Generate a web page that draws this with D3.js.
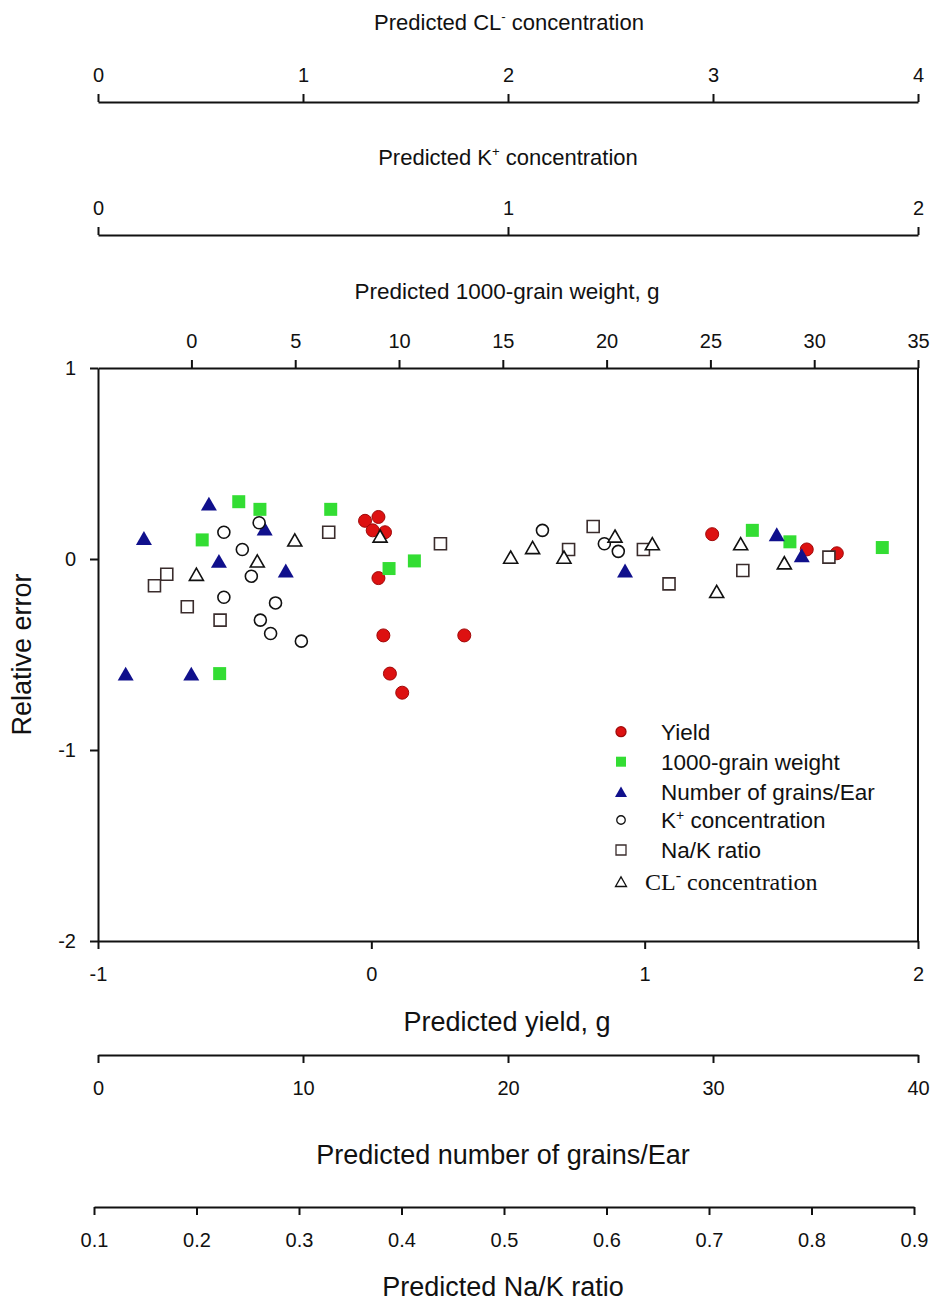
<!DOCTYPE html>
<html>
<head>
<meta charset="utf-8">
<title>Relative error of predictions</title>
<script src="https://d3js.org/d3.v7.min.js"></script>
<style>
  body { margin: 0; background: #fff; }
  svg text { font-family: "Liberation Sans", Arial, sans-serif; fill: #111; }
  .axis path, .axis line { stroke: #111; stroke-width: 2; }
  .axis text { font-size: 20px; }
</style>
</head>
<body>
<div id="chart"></div>
<script>
// values (x on each series' own axis, y = relative error)
const yieldX   = [-0.023, 0.026, 0.005, 0.05, 0.026, 0.044, 0.34, 0.068, 0.113, 1.247, 1.593, 1.703];
const yieldErr = [0.20, 0.22, 0.15, 0.14, -0.10, -0.40, -0.40, -0.60, -0.70, 0.13, 0.05, 0.03];

const grainWtX   = [2.28, 3.30, 0.52, 1.36, 6.71, 9.52, 10.74, 27.02, 28.83, 33.28];
const grainWtErr = [0.30, 0.26, 0.10, -0.60, 0.26, -0.05, -0.01, 0.15, 0.09, 0.06];

const grainsX   = [5.41, 2.24, 8.13, 5.90, 9.16, 1.35, 4.55, 25.71, 33.11, 34.33];
const grainsErr = [0.29, 0.11, 0.16, -0.01, -0.06, -0.60, -0.60, -0.06, 0.13, 0.02];

const kX   = [0.307, 0.393, 0.352, 0.374, 0.307, 0.433, 0.396, 0.421, 0.496, 1.084, 1.235, 1.269];
const kErr = [0.14, 0.19, 0.05, -0.09, -0.20, -0.23, -0.32, -0.39, -0.43, 0.15, 0.08, 0.04];

const naKX   = [0.171, 0.159, 0.191, 0.223, 0.329, 0.438, 0.587, 0.563, 0.636, 0.661, 0.733, 0.817];
const naKErr = [-0.08, -0.14, -0.25, -0.32, 0.14, 0.08, 0.17, 0.05, 0.05, -0.13, -0.06, 0.01];

const clX   = [0.96, 0.777, 0.48, 1.376, 2.013, 2.12, 2.273, 2.522, 2.704, 3.135, 3.348, 3.018];
const clErr = [0.10, -0.01, -0.08, 0.12, 0.01, 0.06, 0.01, 0.12, 0.08, 0.08, -0.02, -0.17];

const yTicks       = [1, 0, -1, -2];
const yieldTicks   = [-1, 0, 1, 2];
const grainWtTicks = [0, 5, 10, 15, 20, 25, 30, 35];
const grainsTicks  = [0, 10, 20, 30, 40];
const kTicks       = [0, 1, 2];
const clTicks      = [0, 1, 2, 3, 4];
const naKTicks     = [0.1, 0.2, 0.3, 0.4, 0.5, 0.6, 0.7, 0.8, 0.9];

const W = 933, H = 1301;
const plotLeft = 98, plotRight = 918, plotTop = 368, plotBottom = 941;

const svg = d3.select("#chart").append("svg")
  .attr("width", W).attr("height", H);

const y = d3.scaleLinear().domain([-2, 1]).range([plotBottom, plotTop]);
const xYield   = d3.scaleLinear().domain([-1, 2]).range([plotLeft, plotRight]);
const xGrainWt = d3.scaleLinear().domain([-4.5, 35]).range([plotLeft, plotRight]);
const xGrains  = d3.scaleLinear().domain([0, 40]).range([plotLeft, plotRight]);
const xK       = d3.scaleLinear().domain([0, 2]).range([plotLeft, plotRight]);
const xCL      = d3.scaleLinear().domain([0, 4]).range([plotLeft, plotRight]);
const xNaK     = d3.scaleLinear().domain([0.1, 0.9]).range([94, 914]);

function addAxis(axis, ty) {
  const g = svg.append("g").attr("class", "axis")
    .attr("transform", "translate(0," + ty + ")")
    .call(axis);
  g.attr("font-family", null).attr("font-size", null);
  return g;
}

// plain hyphen for negatives, as in the original
const fmt = function (d) { return String(d); };
addAxis(d3.axisTop(xCL).tickValues(clTicks).tickSize(8).tickSizeOuter(0).tickPadding(12).tickFormat(fmt), 102);
addAxis(d3.axisTop(xK).tickValues(kTicks).tickSize(8).tickSizeOuter(0).tickPadding(12).tickFormat(fmt), 235);
addAxis(d3.axisTop(xGrainWt).tickValues(grainWtTicks).tickSize(8).tickSizeOuter(0).tickPadding(12).tickFormat(fmt), plotTop);
addAxis(d3.axisBottom(xYield).tickValues(yieldTicks).tickSize(8).tickSizeOuter(0).tickPadding(18).tickFormat(fmt), plotBottom);
addAxis(d3.axisBottom(xGrains).tickValues(grainsTicks).tickSize(8).tickSizeOuter(0).tickPadding(18).tickFormat(fmt), 1055);
addAxis(d3.axisBottom(xNaK).tickValues(naKTicks).tickSize(8).tickSizeOuter(0).tickPadding(18).tickFormat(d3.format(".1f")), 1207);

svg.append("g").attr("class", "axis")
  .attr("transform", "translate(" + plotLeft + ",0)")
  .call(d3.axisLeft(y).tickValues(yTicks).tickSize(8).tickSizeOuter(0).tickPadding(14).tickFormat(fmt))
  .attr("font-family", null).attr("font-size", null);

// right border of the frame
svg.append("line")
  .attr("x1", plotRight).attr("x2", plotRight).attr("y1", plotTop).attr("y2", plotBottom)
  .attr("stroke", "#111").attr("stroke-width", 2);

// axis titles
function title(txt, cx, cy, size, sup) {
  const t = svg.append("text").attr("x", cx).attr("y", cy)
    .attr("text-anchor", "middle").attr("dy", "0.35em")
    .style("font-size", size + "px");
  if (sup) {
    t.append("tspan").text(txt[0]);
    t.append("tspan").text(sup).attr("dy", -size * 0.4).style("font-size", (size * 0.6) + "px");
    t.append("tspan").text(txt[1]).attr("dy", size * 0.4);
  } else {
    t.text(txt);
  }
  return t;
}
title(["Predicted CL", " concentration"], 509, 22, 22, "-");
title(["Predicted K", " concentration"], 508, 157, 22, "+");
title("Predicted 1000-grain weight, g", 507, 291, 22.5);
title("Predicted yield, g", 507, 1022, 27);
title("Predicted number of grains/Ear", 503, 1155, 27);
title("Predicted Na/K ratio", 503, 1287, 27);

svg.append("text")
  .attr("transform", "translate(22," + ((plotTop + plotBottom) / 2) + ") rotate(-90)")
  .attr("text-anchor", "middle").attr("dy", "0.35em")
  .style("font-size", "27px")
  .text("Relative error");

// triangle centred on its bounding box
const triangle = {
  draw(ctx, size) {
    const s = Math.sqrt(size);
    const h = s * 0.87;
    ctx.moveTo(0, -h / 2);
    ctx.lineTo(s / 2, h / 2);
    ctx.lineTo(-s / 2, h / 2);
    ctx.closePath();
  }
};
const square = {
  draw(ctx, size) {
    const s = Math.sqrt(size) / 2;
    ctx.rect(-s, -s, 2 * s, 2 * s);
  }
};
const circle = {
  draw(ctx, size) {
    const r = Math.sqrt(size) / 2;
    ctx.moveTo(r, 0);
    ctx.arc(0, 0, r, 0, 2 * Math.PI);
  }
};

const series = [
  { name: "Yield", xs: yieldX, ys: yieldErr, sx: xYield, type: circle, size: 169, legendSize: 100,
    fill: "#dd1111", stroke: "#a00808", sw: 1 },
  { name: "1000-grain weight", xs: grainWtX, ys: grainWtErr, sx: xGrainWt, type: square, size: 169, legendSize: 100,
    fill: "#33dd33", stroke: "#33dd33", sw: 0 },
  { name: "Number of grains/Ear", xs: grainsX, ys: grainsErr, sx: xGrains, type: triangle, size: 256, legendSize: 144,
    fill: "#10108c", stroke: "#10108c", sw: 0 },
  { name: "K+ concentration", xs: kX, ys: kErr, sx: xK, type: circle, size: 144, legendSize: 72,
    fill: "#fff", stroke: "#111", sw: 1.6 },
  { name: "Na/K ratio", xs: naKX, ys: naKErr, sx: xNaK, type: square, size: 144, legendSize: 100,
    fill: "#fff", stroke: "#3a2c2c", sw: 1.6 },
  { name: "CL- concentration", xs: clX, ys: clErr, sx: xCL, type: triangle, size: 196, legendSize: 121,
    fill: "#fff", stroke: "#111", sw: 1.6 }
];

series.forEach(function (s) {
  const pts = s.xs.map(function (v, i) { return { x: v, y: s.ys[i] }; });
  svg.append("g").selectAll("path")
    .data(pts).enter().append("path")
    .attr("transform", function (d) { return "translate(" + s.sx(d.x) + "," + y(d.y) + ")"; })
    .attr("d", d3.symbol().type(s.type).size(s.size)())
    .attr("fill", s.fill)
    .attr("stroke", s.stroke)
    .attr("stroke-width", s.sw);
});

// legend
const legendRows = [731.7, 761.7, 791.7, 820, 850, 881.7];
const legend = svg.append("g");
series.forEach(function (s, i) {
  legend.append("path")
    .attr("transform", "translate(621," + legendRows[i] + ")")
    .attr("d", d3.symbol().type(s.type).size(s.legendSize)())
    .attr("fill", s.fill).attr("stroke", s.stroke).attr("stroke-width", s.sw ? 1.3 : 0);
  const t = legend.append("text")
    .attr("x", 661).attr("y", legendRows[i]).attr("dy", "0.35em")
    .style("font-size", "22.5px");
  if (i === 3) {
    t.append("tspan").text("K");
    t.append("tspan").text("+").attr("dy", -8).style("font-size", "14px");
    t.append("tspan").text(" concentration").attr("dy", 8);
  } else if (i === 5) {
    t.attr("x", 645).style("font-family", "'Liberation Serif', 'Times New Roman', serif").style("font-size", "24px");
    t.append("tspan").text("CL");
    t.append("tspan").text("-").attr("dy", -9).style("font-size", "16px");
    t.append("tspan").text(" concentration").attr("dy", 9);
  } else {
    t.text(s.name);
  }
});
</script>
</body>
</html>
